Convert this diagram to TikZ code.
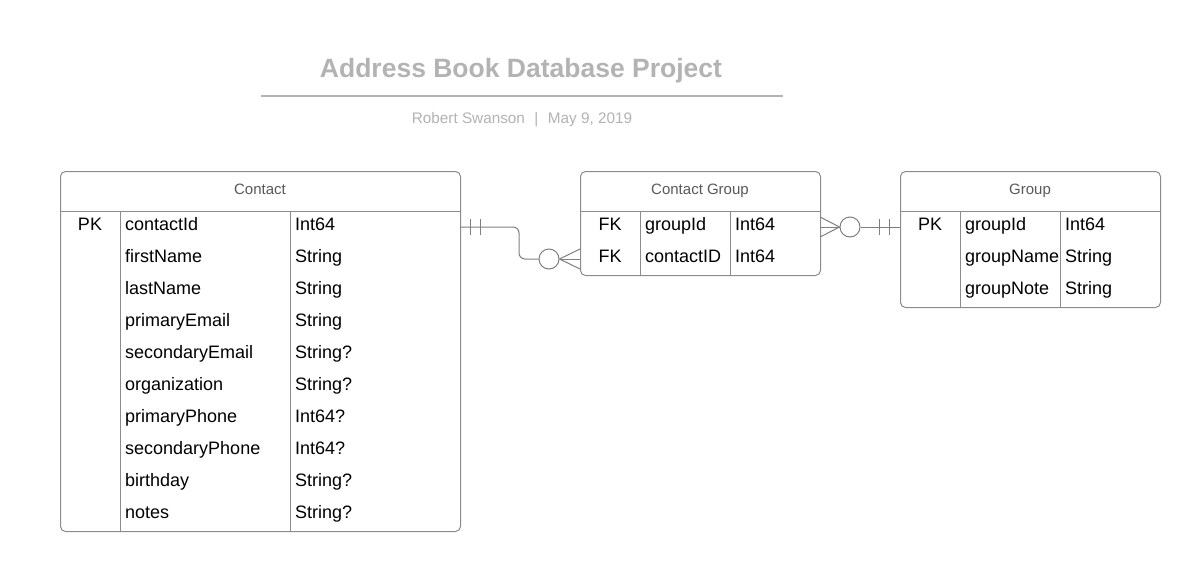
\documentclass[tikz,border=0pt]{standalone}
\usepackage{fontspec}
\setmainfont{Liberation Sans}
\definecolor{titlegray}{HTML}{B3B3B3}
\definecolor{headgray}{HTML}{595959}
\definecolor{bordergray}{HTML}{8C8C8C}
\definecolor{conngray}{HTML}{7F7F7F}
\tikzset{
  tbl/.style={draw=bordergray, line width=1pt, rounded corners=5pt, anchor=north west, inner sep=0pt},
  sep/.style={draw=bordergray, line width=1pt},
  cell/.style={anchor=base west, inner sep=0pt, font=\fontsize{18}{20}\selectfont},
  key/.style={anchor=base, inner sep=0pt, font=\fontsize{18}{20}\selectfont},
  head/.style={anchor=base, inner sep=0pt, text=headgray, font=\fontsize{15}{18}\selectfont},
  conn/.style={draw=conngray, line width=1pt},
  ring/.style={circle, draw=conngray, line width=1pt, minimum size=20pt, inner sep=0pt, fill=white},
}
\begin{document}
\begin{tikzpicture}[x=1pt,y=-1pt]
\useasboundingbox (0,0) rectangle (1200,571);
\fill[white] (0,0) rectangle (1200,571);

% title
\node[anchor=base, inner sep=0pt, text=titlegray, font=\fontsize{26.5}{30}\selectfont\bfseries] (title) at (521,77.5) {Address Book Database Project};
\coordinate (tl) at (261,96);
\coordinate (tr) at (783,96);
\draw[titlegray, line width=1.8pt] (tl) -- (tr);
\node[anchor=base, inner sep=0pt, text=titlegray, font=\fontsize{15.3}{18}\selectfont] (sub) at (522,123) {Robert Swanson\hspace{9.5pt}|\hspace{9.5pt}May 9, 2019};

% Contact table
\node[tbl, minimum width=400pt, minimum height=360pt] (contact) at (60,171) {};
\draw[sep] (60,211) -- (460,211);
\draw[sep] (120,211) -- (120,531);
\draw[sep] (290,211) -- (290,531);
\node[head] (contacth) at (260,194) {Contact};
\node[key] (contactpk) at (90,230.8) {PK};
\foreach \n/\t [count=\i from 0] in {contactId/Int64, firstName/String, lastName/String, primaryEmail/String, secondaryEmail/String?, organization/String?, primaryPhone/Int64?, secondaryPhone/Int64?, birthday/String?, notes/String?}{
  \node[cell] (cn\i) at (125,230.8+32*\i) {\n};
  \node[cell] (ct\i) at (295,230.8+32*\i) {\t};
}

% Contact Group table
\node[tbl, minimum width=240pt, minimum height=104pt] (cgroup) at (580,171) {};
\draw[sep] (580,211) -- (820,211);
\draw[sep] (640,211) -- (640,275);
\draw[sep] (730,211) -- (730,275);
\node[head] (cgrouph) at (700,194) {Contact Group};
\node[key] (cgk0) at (610,230.8) {FK};
\node[key] (cgk1) at (610,262.8) {FK};
\node[cell] (cgn0) at (645,230.8) {groupId};
\node[cell] (cgt0) at (735,230.8) {Int64};
\node[cell] (cgn1) at (645,262.8) {contactID};
\node[cell] (cgt1) at (735,262.8) {Int64};

% Group table
\node[tbl, minimum width=260pt, minimum height=136pt] (group) at (900,171) {};
\draw[sep] (900,211) -- (1160,211);
\draw[sep] (960,211) -- (960,307);
\draw[sep] (1060,211) -- (1060,307);
\node[head] (grouph) at (1030,194) {Group};
\node[key] (gpk) at (930,230.8) {PK};
\foreach \n/\t [count=\i from 0] in {groupId/Int64, groupName/String, groupNote/String}{
  \node[cell] (gn\i) at (965,230.8+32*\i) {\n};
  \node[cell] (gt\i) at (1065,230.8+32*\i) {\t};
}

% Connector Contact -> Contact Group
\coordinate (a1) at (460,227);
\coordinate (a2) at (580,259);
\coordinate (a2u) at (580,249);
\coordinate (a2d) at (580,269);
\node[ring] (o1) at (549,259) {};
\draw[conn, rounded corners=6pt] (a1) -- (519,227) -- (519,259) -- (o1.west);
\draw[conn] (470,219) -- (470,235);
\draw[conn] (480,219) -- (480,235);
\draw[conn] (o1.east) -- (a2u);
\draw[conn] (o1.east) -- (a2);
\draw[conn] (o1.east) -- (a2d);

% Connector Contact Group -> Group
\coordinate (b1) at (820,227);
\coordinate (b1u) at (820,217);
\coordinate (b1d) at (820,237);
\coordinate (b2) at (900,227);
\node[ring] (o2) at (850,227) {};
\draw[conn] (b1u) -- (o2.west);
\draw[conn] (b1) -- (o2.west);
\draw[conn] (b1d) -- (o2.west);
\draw[conn] (o2.east) -- (b2);
\draw[conn] (879,219) -- (879,235);
\draw[conn] (889,219) -- (889,235);
\end{tikzpicture}
\end{document}
